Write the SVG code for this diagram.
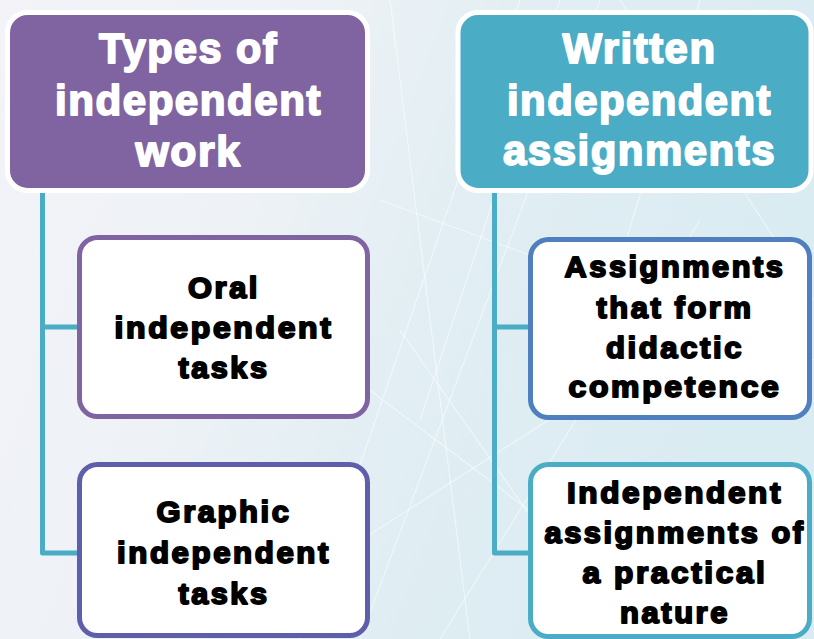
<svg xmlns="http://www.w3.org/2000/svg" width="814" height="639" viewBox="0 0 814 639">
  <defs>
    <linearGradient id="bg" x1="0" y1="0" x2="1" y2="0.3">
      <stop offset="0" stop-color="#f3f3f8"/>
      <stop offset="0.35" stop-color="#eef2f6"/>
      <stop offset="0.6" stop-color="#e2eef3"/>
      <stop offset="1" stop-color="#d9ecf2"/>
    </linearGradient>
    <style>
      .head { stroke: #ffffff; stroke-width: 5; }
      .head-text { font-family: "Liberation Sans", Arial, sans-serif; font-weight: bold; font-size: 42px; fill: #ffffff; stroke: #ffffff; stroke-width: 1.8; stroke-linejoin: round; letter-spacing: 1.5px; text-anchor: middle; }
      .item { fill: #ffffff; stroke-width: 5; }
      .item-text { font-family: "Liberation Sans", Arial, sans-serif; font-weight: bold; font-size: 30px; fill: #000000; stroke: #000000; stroke-width: 1.9; stroke-linejoin: round; letter-spacing: 2.5px; text-anchor: middle; }
      .link { fill: none; stroke: #4bacc6; stroke-width: 5; stroke-linejoin: round; }
      .streak { fill: none; stroke: #ffffff; stroke-width: 1.2; opacity: 0.5; }
    </style>
  </defs>

  <!-- backdrop -->
  <rect x="0" y="0" width="814" height="639" fill="url(#bg)"/>
  <g id="backdrop-streaks">
    <path class="streak" d="M300 639 L520 0"/>
    <path class="streak" d="M360 639 L600 0"/>
    <path class="streak" d="M420 420 L560 0"/>
    <path class="streak" d="M250 300 L700 639"/>
    <path class="streak" d="M380 200 L814 360"/>
    <path class="streak" d="M330 560 L814 250"/>
    <path class="streak" d="M440 639 L700 220"/>
    <path class="streak" d="M620 0 L814 300"/>
    <path class="streak" d="M400 330 L540 530"/>
    <path class="streak" d="M700 0 L620 260"/>
    <path class="streak" d="M390 0 L470 639" opacity="0.35"/>
  </g>

  <!-- connectors -->
  <g id="connectors">
    <path class="link" d="M42.5 193 V553 H80"/>
    <path class="link" d="M42.5 327 H80"/>
    <path class="link" d="M494.5 193 V553 H531"/>
    <path class="link" d="M494.5 327 H531"/>
  </g>

  <!-- left column -->
  <g id="types-of-work">
    <rect class="head" x="7.5" y="12.5" width="360" height="178" rx="20" fill="#8064a2"/>
    <text class="head-text" x="188.5" y="63" textLength="179" lengthAdjust="spacingAndGlyphs">Types of</text>
    <text class="head-text" x="188.5" y="115" textLength="267" lengthAdjust="spacingAndGlyphs">independent</text>
    <text class="head-text" x="188.5" y="166" textLength="106" lengthAdjust="spacingAndGlyphs">work</text>
  </g>

  <g id="oral-tasks">
    <rect class="item" x="79.5" y="237.5" width="288" height="179" rx="18" stroke="#8064a2"/>
    <text class="item-text" x="224" y="298" textLength="72" lengthAdjust="spacingAndGlyphs">Oral</text>
    <text class="item-text" x="224" y="338" textLength="219" lengthAdjust="spacingAndGlyphs">independent</text>
    <text class="item-text" x="224" y="378" textLength="91" lengthAdjust="spacingAndGlyphs">tasks</text>
  </g>

  <g id="graphic-tasks">
    <rect class="item" x="79.5" y="464.5" width="288" height="171" rx="18" stroke="#5f5eab"/>
    <text class="item-text" x="224" y="522" textLength="135" lengthAdjust="spacingAndGlyphs">Graphic</text>
    <text class="item-text" x="224" y="563" textLength="214" lengthAdjust="spacingAndGlyphs">independent</text>
    <text class="item-text" x="224" y="604" textLength="91" lengthAdjust="spacingAndGlyphs">tasks</text>
  </g>

  <!-- right column -->
  <g id="written-assignments">
    <rect class="head" x="458" y="12.5" width="353" height="178" rx="20" fill="#4bacc6"/>
    <text class="head-text" x="639.5" y="63" textLength="154" lengthAdjust="spacingAndGlyphs">Written</text>
    <text class="head-text" x="639.5" y="115" textLength="265" lengthAdjust="spacingAndGlyphs">independent</text>
    <text class="head-text" x="639.5" y="165" textLength="273" lengthAdjust="spacingAndGlyphs">assignments</text>
  </g>

  <g id="didactic-competence">
    <rect class="item" x="530.5" y="239.5" width="279" height="178" rx="18" stroke="#4f7fbe"/>
    <text class="item-text" x="675" y="277" textLength="221" lengthAdjust="spacingAndGlyphs">Assignments</text>
    <text class="item-text" x="675" y="318" textLength="157" lengthAdjust="spacingAndGlyphs">that form</text>
    <text class="item-text" x="675" y="358" textLength="138" lengthAdjust="spacingAndGlyphs">didactic</text>
    <text class="item-text" x="675" y="397" textLength="213" lengthAdjust="spacingAndGlyphs">competence</text>
  </g>

  <g id="practical-nature">
    <rect class="item" x="530.5" y="464.5" width="279" height="172" rx="18" stroke="#4bacc6"/>
    <text class="item-text" x="675" y="503" textLength="216" lengthAdjust="spacingAndGlyphs">Independent</text>
    <text class="item-text" x="675" y="543" textLength="261" lengthAdjust="spacingAndGlyphs">assignments of</text>
    <text class="item-text" x="675" y="583" textLength="185" lengthAdjust="spacingAndGlyphs">a practical</text>
    <text class="item-text" x="675" y="623" textLength="110" lengthAdjust="spacingAndGlyphs">nature</text>
  </g>
</svg>
